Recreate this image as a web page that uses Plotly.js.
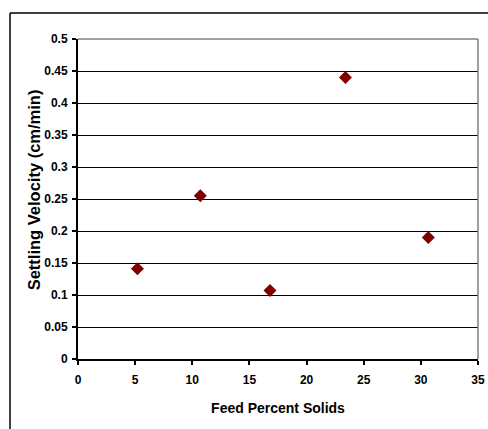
<!DOCTYPE html>
<html>
<head>
<meta charset="utf-8">
<script src="https://cdn.plot.ly/plotly-3.0.1.min.js"></script>
<style>
html,body{margin:0;padding:0;background:#fff;}
#chart{width:488px;height:429px;}
</style>
</head>
<body>
<div id="chart"></div>
<script>
// Data
var feedPercentSolids = [5.2, 10.7, 16.8, 23.4, 30.65];
var settlingVelocity = [0.141, 0.255, 0.107, 0.44, 0.19];

var xTickVals = [0, 5, 10, 15, 20, 25, 30, 35];
var xTickText = ["0", "5", "10", "15", "20", "25", "30", "35"];
var yTickVals = [0, 0.05, 0.1, 0.15, 0.2, 0.25, 0.3, 0.35, 0.4, 0.45, 0.5];
var yTickText = ["0", "0.05", "0.1", "0.15", "0.2", "0.25", "0.3", "0.35", "0.4", "0.45", "0.5"];

var xTitle = "Feed Percent Solids";
var yTitle = "Settling Velocity (cm/min)";

var fontFam = "Liberation Sans, Arial, sans-serif";

var trace = {
  x: feedPercentSolids,
  y: settlingVelocity,
  type: "scatter",
  mode: "markers",
  marker: {symbol: "diamond", size: 10, color: "#800000", line: {width: 0}},
  cliponaxis: false,
  hoverinfo: "skip"
};

var layout = {
  width: 488,
  height: 429,
  margin: {l: 78, r: 10, t: 39, b: 70},
  paper_bgcolor: "#ffffff",
  plot_bgcolor: "#ffffff",
  showlegend: false,
  font: {family: fontFam, color: "#000000", size: 12, weight: 700},
  xaxis: {
    range: [0, 35],
    tickvals: xTickVals,
    ticktext: xTickText,
    ticks: "outside",
    ticklen: 4,
    tickwidth: 2,
    tickcolor: "#000",
    ticklabelstandoff: 5,
    showgrid: false,
    zeroline: false,
    showline: true,
    linecolor: "#000",
    linewidth: 2,
    tickfont: {family: fontFam, size: 12, color: "#000", weight: 700},
    title: {text: xTitle, font: {family: fontFam, size: 14, color: "#000", weight: 700}, standoff: 17}
  },
  yaxis: {
    range: [0, 0.5],
    tickvals: yTickVals,
    ticktext: yTickText,
    ticks: "outside",
    ticklen: 4,
    tickwidth: 2,
    tickcolor: "#000",
    ticklabelstandoff: 2,
    showgrid: true,
    gridcolor: "#000",
    gridwidth: 1,
    zeroline: false,
    showline: true,
    linecolor: "#000",
    linewidth: 2,
    tickfont: {family: fontFam, size: 12, color: "#000", weight: 700}
  },
  annotations: [
    {text: yTitle, textangle: -90, xref: "paper", yref: "paper", x: -0.11, y: 0.527,
     xanchor: "center", yanchor: "middle", showarrow: false,
     font: {family: fontFam, size: 16.5, color: "#000", weight: 700}}
  ],
  shapes: [
    // gray top and right plot borders
    {type: "line", xref: "paper", yref: "paper", x0: 0, x1: 1, y0: 1, y1: 1, line: {color: "#808080", width: 1.5}},
    {type: "line", xref: "paper", yref: "paper", x0: 1, x1: 1, y0: 0, y1: 1, line: {color: "#808080", width: 1.5}},
    // outer chart-area border (left and top edges)
    {type: "line", xref: "paper", yref: "paper", x0: -0.17, x1: 1.1, y0: 1.08125, y1: 1.08125, line: {color: "#000", width: 1.5}},
    {type: "line", xref: "paper", yref: "paper", x0: -0.17, x1: -0.17, y0: -0.3, y1: 1.08125, line: {color: "#000", width: 1.5}}
  ]
};

Plotly.newPlot("chart", [trace], layout, {displayModeBar: false, staticPlot: true});
</script>
</body>
</html>
